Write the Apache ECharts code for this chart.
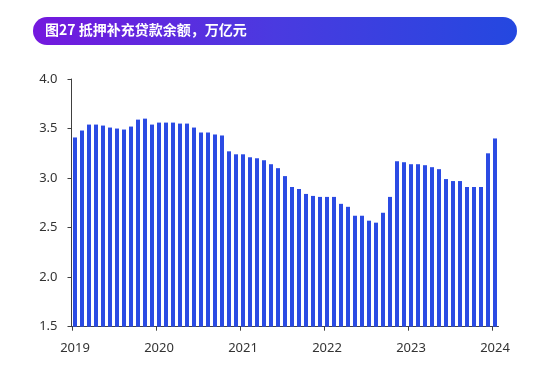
<!DOCTYPE html>
<html>
<head>
<meta charset="utf-8">
<script src="https://cdn.jsdelivr.net/npm/echarts@6/dist/echarts.min.js"></script>
<style>
html,body{margin:0;padding:0;background:#fff;}
#c{width:535px;height:365px;}
</style>
</head>
<body>
<div id="c"></div>
<script>
var titleText = '图27 抵押补充贷款余额，万亿元';
var months = [];
for (var y = 2019; y <= 2024; y++) {
  for (var m = 1; m <= 12; m++) {
    if (y === 2024 && m > 1) break;
    months.push(y + '-' + (m < 10 ? '0' + m : m));
  }
}
var values = [
  3.41, 3.48, 3.54, 3.54, 3.53, 3.51, 3.50, 3.49, 3.52, 3.59, 3.60, 3.54,
  3.56, 3.56, 3.56, 3.55, 3.55, 3.51, 3.46, 3.46, 3.44, 3.43, 3.27, 3.24,
  3.24, 3.21, 3.20, 3.18, 3.14, 3.10, 3.02, 2.91, 2.89, 2.84, 2.82, 2.81,
  2.81, 2.81, 2.74, 2.71, 2.62, 2.62, 2.57, 2.55, 2.65, 2.81, 3.17, 3.16,
  3.14, 3.14, 3.13, 3.11, 3.09, 2.99, 2.97, 2.97, 2.91, 2.91, 2.91, 3.25,
  3.40
];
var yTicks = [1.5, 2.0, 2.5, 3.0, 3.5, 4.0];
var yearTickCats = ['2019-01', '2020-01', '2021-01', '2022-01', '2023-01', '2024-01'];

var chart = echarts.init(document.getElementById('c'), null, {renderer: 'canvas'});
chart.setOption({
  animation: false,
  backgroundColor: '#ffffff',
  graphic: [
    {
      type: 'rect',
      left: 33, top: 17,
      shape: {width: 484, height: 28, r: 14},
      style: {
        fill: new echarts.graphic.LinearGradient(0, 0, 1, 0, [
          {offset: 0, color: '#7418de'},
          {offset: 0.5, color: '#4a3ae0'},
          {offset: 1, color: '#2448e0'}
        ])
      }
    },
    {
      type: 'text',
      left: 45, top: 23,
      style: {
        text: titleText,
        fill: '#ffffff',
        font: 'bold 14px "Noto Sans CJK SC", "Noto Sans", sans-serif'
      }
    }
  ],
  grid: {left: 71.5, right: 36.5, top: 79, bottom: 38.3, containLabel: false},
  xAxis: {
    type: 'category',
    data: months,
    boundaryGap: true,
    axisLine: {show: true, lineStyle: {color: '#404040', width: 1}},
    axisTick: {show: false},
    axisLabel: {
      interval: 11,
      margin: 15,
      color: '#333',
      fontSize: 13,
      fontFamily: 'Noto Sans',
      formatter: function (v) { return v.slice(0, 4); }
    },
    splitLine: {show: false}
  },
  yAxis: {
    type: 'value',
    min: yTicks[0],
    max: yTicks[yTicks.length - 1],
    interval: 0.5,
    axisLine: {show: true, lineStyle: {color: '#404040', width: 1}},
    axisTick: {show: true, length: 4, lineStyle: {color: '#404040'}},
    axisLabel: {
      margin: 14,
      color: '#333',
      fontSize: 13,
      fontFamily: 'Noto Sans',
      formatter: function (v) { return v.toFixed(1); }
    },
    splitLine: {show: false}
  },
  series: [{
    type: 'bar',
    data: values,
    barWidth: 4,
    itemStyle: {color: '#2b4be3'}
  }, {
    type: 'custom',
    clip: false,
    silent: true,
    z: 5,
    data: yearTickCats.map(function (c) { return [c, yTicks[0]]; }),
    renderItem: function (params, api) {
      var p = api.coord([api.value(0), api.value(1)]);
      var w = api.size([1, 0])[0];
      var x = Math.round(p[0] - w / 2) + 0.5;
      return {
        type: 'line',
        shape: {x1: x, y1: p[1], x2: x, y2: p[1] + 4},
        style: {stroke: '#404040', lineWidth: 1}
      };
    }
  }]
});
</script>
</body>
</html>
